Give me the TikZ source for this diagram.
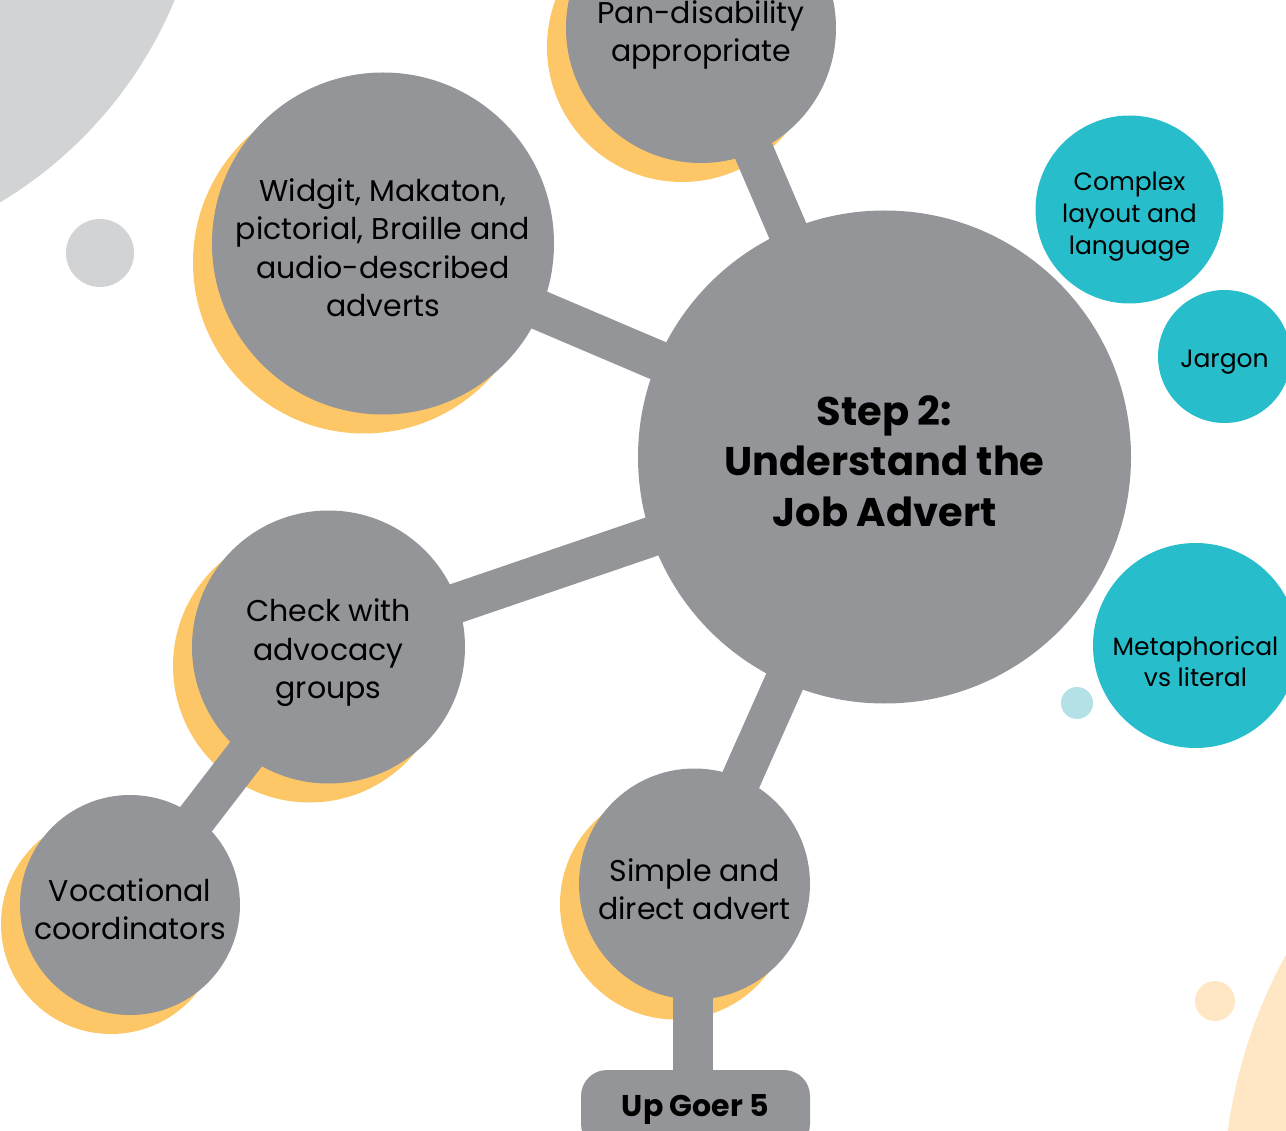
\documentclass[tikz,border=0pt]{standalone}
\usepackage{fontspec}
\setmainfont{Poppins}
\usetikzlibrary{calc}
\definecolor{bub}{HTML}{939598}
\definecolor{shad}{HTML}{FDC667}
\definecolor{tealB}{HTML}{27BDCA}
\definecolor{lgray}{HTML}{D1D3D4}
\definecolor{lteal}{HTML}{B3E1E6}
\definecolor{peach}{HTML}{FFE6C4}
\pgfdeclarelayer{deco}
\pgfdeclarelayer{shadowlayer}
\pgfdeclarelayer{connlayer}
\pgfsetlayers{deco,shadowlayer,connlayer,main}
\tikzset{
  bubble/.style={circle, fill=bub, inner sep=0pt},
  tbubble/.style={circle, fill=tealB, inner sep=0pt},
  lbl/.style={align=center, text=black, inner sep=0pt, font=\fontsize{30}{38.5}\selectfont},
  tlbl/.style={align=center, text=black, inner sep=0pt, font=\fontsize{25}{32}\selectfont},
  conn/.style={draw=bub, line width=40pt},
}
\begin{document}
\begin{tikzpicture}[x=1pt,y=-1pt]
\useasboundingbox (0,0) rectangle (1286,1131);
\clip (0,0) rectangle (1286,1131);
% nodes
\node[bubble, minimum size=493, label={[lbl, font=\bfseries\fontsize{40}{50.5}\selectfont, yshift=-4pt]center:Step 2:\\Understand the\\Job Advert}] (main) at (884.5,457) {};
\node[bubble, minimum size=270, label={[lbl, yshift=-7pt]center:Pan-disability\\appropriate}] (pan) at (701,28) {};
\node[bubble, minimum size=342, label={[lbl, yshift=-4pt]center:Widgit, Makaton,\\pictorial, Braille and\\audio-described\\adverts}] (widgit) at (383,243.5) {};
\node[bubble, minimum size=273, label={[lbl, yshift=-6pt]center:Check with\\advocacy\\groups}] (check) at (328.5,647) {};
\node[bubble, minimum size=220, label={[lbl, yshift=-4pt]center:Vocational\\coordinators}] (voc) at (130,905) {};
\node[bubble, minimum size=231, label={[lbl, yshift=-5pt]center:Simple and\\direct advert}] (simple) at (694.5,884) {};
\node[rectangle, rounded corners=26pt, fill=bub, minimum width=229, minimum height=80, text=black, font=\bfseries\fontsize{30}{36}\selectfont] (up) at (695.5,1110) {Up Goer 5};
\node[tbubble, minimum size=188, label={[tlbl, yshift=-7pt]center:Complex\\layout and\\language}] (complex) at (1129.5,209.5) {};
\node[tbubble, minimum size=133, label={[tlbl, yshift=-6pt]center:Jargon}] (jargon) at (1224.5,356.5) {};
\node[tbubble, minimum size=205, label={[tlbl, font=\fontsize{25}{31}\selectfont, yshift=-16pt]center:Metaphorical\\vs literal}] (meta) at (1195.5,645.5) {};
% connectors
\begin{pgfonlayer}{connlayer}
\draw[conn] (main.center) -- (pan.center);
\draw[conn] (main.center) -- (widgit.center);
\draw[conn] (main.center) -- (check.center);
\draw[conn] (main.center) -- (simple.center);
\draw[conn] (check.center) -- (voc.center);
\draw[conn] ([xshift=-1.5pt]simple.center) -- ([xshift=-1.5pt]simple.center |- up.center);
\end{pgfonlayer}
% shadows
\begin{pgfonlayer}{shadowlayer}
\fill[shad] ($(pan.center)+(-19,19)$) circle (135);
\fill[shad] ($(widgit.center)+(-19,19)$) circle (171);
\fill[shad] ($(check.center)+(-19,19)$) circle (136.5);
\fill[shad] ($(voc.center)+(-19,19)$) circle (110);
\fill[shad] ($(simple.center)+(-19,20)$) circle (115.5);
\end{pgfonlayer}
% decorations
\begin{pgfonlayer}{deco}
\fill[lgray] (-219,-163) circle (426);
\fill[lgray] (100,253) circle (34);
\fill[lteal] (1077,703) circle (16);
\fill[peach] (1215,1001) circle (20);
\fill[peach] (1735,1201) circle (512);
\end{pgfonlayer}
\end{tikzpicture}
\end{document}
